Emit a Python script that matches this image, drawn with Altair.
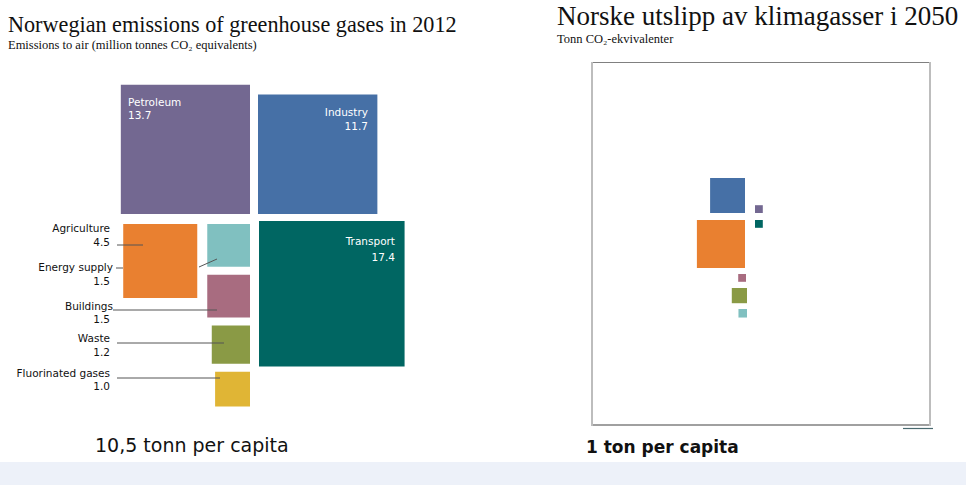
import altair as alt
import numpy as np
import pandas as pd

# ---------------- data ----------------
sectors = ["Petroleum", "Industry", "Transport", "Agriculture",
           "Energy supply", "Buildings", "Waste", "Fluorinated gases"]
values_2012 = [13.7, 11.7, 17.4, 4.5, 1.5, 1.5, 1.2, 1.0]          # million tonnes CO2-eq
values_2050 = [0.05, 1.0, 0.05, 1.9, 0.06, 0.05, 0.19, 0.0]
value_labels = ["13.7", "11.7", "17.4", "4.5", "1.5", "1.5", "1.2", "1.0"]
colors = ["#736891", "#4670a6", "#006662", "#e98030",
          "#80c0c0", "#a86c80", "#8a9a45", "#e0b535"]

title_left = "Norwegian emissions of greenhouse gases in 2012"
subtitle_left = "Emissions to air (million tonnes CO\u2082 equivalents)"
title_right = "Norske utslipp av klimagasser i 2050"
subtitle_right = "Tonn CO\u2082-ekvivalenter"
footer_left = "10,5 tonn per capita"
footer_right = "1 ton per capita"

# ---------------- layout (canvas pixels) ----------------
W, H = 966, 485
K = 34.9          # pixels of square side per sqrt(million tonnes)
GAP = 8

def side(v):
    return K * np.sqrt(v)

def place(v, xref, xa, yref, ya):
    s = side(v)
    x0 = xa if xref == "left" else xa - s
    y0 = ya if yref == "top" else ya - s
    return x0, x0 + s, y0, y0 + s

# 2012 panel
v = dict(zip(sectors, values_2012))
anch_2012 = {}
anch_2012["Petroleum"] = ("right", 250, "bottom", 214)
anch_2012["Industry"] = ("left", 250 + GAP, "bottom", 214)
anch_2012["Transport"] = ("left", 259, "top", 221)
col_top = 224
for name in ["Energy supply", "Buildings", "Waste", "Fluorinated gases"]:
    anch_2012[name] = ("right", 250, "top", col_top)
    col_top += side(v[name]) + GAP
anch_2012["Agriculture"] = ("right", 250 - side(v["Energy supply"]) - 10, "top", 224)

# 2050 panel
anch_2050 = {
    "Industry": ("right", 745, "bottom", 213),
    "Petroleum": ("left", 755, "bottom", 213),
    "Transport": ("left", 755, "top", 220),
    "Agriculture": ("right", 745, "top", 220),
    "Buildings": ("right", 746, "top", 274),
    "Waste": ("right", 747, "top", 288),
    "Energy supply": ("right", 747, "top", 309),
    "Fluorinated gases": ("right", 747, "top", 330),
}

rows = []
for panel, vals, anch in [("2012", values_2012, anch_2012), ("2050", values_2050, anch_2050)]:
    for name, val, col in zip(sectors, vals, colors):
        if val <= 0:
            continue
        x0, x1, y0, y1 = place(val, *anch[name])
        rows.append(dict(panel=panel, sector=name, value=val, color=col,
                         x=x0, x2=x1, y=y0, y2=y1))
squares = pd.DataFrame(rows)

xs = alt.Scale(domain=[0, W], nice=False, zero=False)
ys = alt.Scale(domain=[0, H], nice=False, zero=False, reverse=True)

def X(f="x"):
    return alt.X(f"{f}:Q", scale=xs, axis=None)

def Y(f="y"):
    return alt.Y(f"{f}:Q", scale=ys, axis=None)

# background band
band = alt.Chart(pd.DataFrame([dict(x=0, x2=W, y=462, y2=H)])).mark_rect(
    color="#edf1f9").encode(x=X(), x2="x2:Q", y=Y(), y2="y2:Q")

# squares
sq = alt.Chart(squares).mark_rect().encode(
    x=X(), x2="x2:Q", y=Y(), y2="y2:Q",
    color=alt.Color("color:N", scale=None),
    tooltip=["panel:N", "sector:N", "value:Q"])

# frame of right panel
frame_df = pd.DataFrame([
    dict(x=592, x2=931, y=62.5, y2=62.5, c="#808080", w=1.2),
    dict(x=592, x2=931, y=425, y2=425, c="#808080", w=1.5),
    dict(x=592, x2=592, y=62, y2=426, c="#bdbdbd", w=2),
    dict(x=930, x2=930, y=62, y2=426, c="#bdbdbd", w=2),
    dict(x=903, x2=933, y=428.5, y2=428.5, c="#4a6a70", w=1.2),
])
frame = alt.Chart(frame_df).mark_rule().encode(
    x=X(), x2="x2:Q", y=Y(), y2="y2:Q",
    color=alt.Color("c:N", scale=None),
    strokeWidth=alt.StrokeWidth("w:Q", scale=None))

# leader lines
lead_df = pd.DataFrame([
    dict(x=117, x2=143, y=245, y2=245),
    dict(x=116, x2=123, y=268, y2=268),
    dict(x=199, x2=217, y=267, y2=259),
    dict(x=113, x2=217, y=310, y2=310),
    dict(x=117, x2=224, y=343, y2=343),
    dict(x=117, x2=220, y=378, y2=378),
])
leads = alt.Chart(lead_df).mark_rule(color="#555555", strokeWidth=1).encode(
    x=X(), x2="x2:Q", y=Y(), y2="y2:Q")

LABEL_FONT = "DejaVu Sans"

def text_layer(df, **kw):
    return alt.Chart(df).mark_text(**kw).encode(x=X(), y=Y(), text="t:N")

# outside labels (right-aligned)
out_names = pd.DataFrame([
    dict(t="Agriculture", x=110, y=229),
    dict(t="Energy supply", x=113, y=268),
    dict(t="Buildings", x=113, y=307),
    dict(t="Waste", x=110, y=339),
    dict(t="Fluorinated gases", x=110, y=374),
    dict(t=value_labels[3], x=110, y=243),
    dict(t=value_labels[4], x=110, y=282),
    dict(t=value_labels[5], x=110, y=320),
    dict(t=value_labels[6], x=110, y=353),
    dict(t=value_labels[7], x=110, y=387),
])
out_txt = text_layer(out_names, align="right", baseline="middle", font=LABEL_FONT,
                     fontSize=10.5, color="#111111")

# inside labels
in_left = pd.DataFrame([dict(t=sectors[0], x=128, y=103), dict(t=value_labels[0], x=128, y=116)])
in_right = pd.DataFrame([
    dict(t=sectors[1], x=368, y=113), dict(t=value_labels[1], x=368, y=127),
    dict(t=sectors[2], x=395, y=242), dict(t=value_labels[2], x=395, y=258),
])
in_txt_l = text_layer(in_left, align="left", baseline="middle", font=LABEL_FONT,
                      fontSize=10.5, color="white")
in_txt_r = text_layer(in_right, align="right", baseline="middle", font=LABEL_FONT,
                      fontSize=10.5, color="white")

# titles
SERIF = "Liberation Serif"
t1 = text_layer(pd.DataFrame([dict(t=title_left, x=8, y=32)]), align="left",
                baseline="alphabetic", font=SERIF, fontSize=22.2, color="#111111")
t2 = text_layer(pd.DataFrame([dict(t=subtitle_left, x=8, y=49)]), align="left",
                baseline="alphabetic", font=SERIF, fontSize=12.5, color="#111111")
t3 = text_layer(pd.DataFrame([dict(t=title_right, x=557, y=25)]), align="left",
                baseline="alphabetic", font=SERIF, fontSize=27, color="#111111")
t4 = text_layer(pd.DataFrame([dict(t=subtitle_right, x=557, y=43)]), align="left",
                baseline="alphabetic", font=SERIF, fontSize=12.5, color="#111111")

f1 = text_layer(pd.DataFrame([dict(t=footer_left, x=95, y=452)]), align="left",
                baseline="alphabetic", font=LABEL_FONT, fontSize=19, color="#111111")
f2 = text_layer(pd.DataFrame([dict(t=footer_right, x=586, y=453)]), align="left",
                baseline="alphabetic", font=LABEL_FONT, fontSize=17, fontWeight="bold",
                color="#111111")

chart = alt.layer(band, sq, frame, leads, out_txt, in_txt_l, in_txt_r,
                  t1, t2, t3, t4, f1, f2).properties(
    width=W, height=H,
    autosize=alt.AutoSizeParams(type="none"),
    padding=0,
    background="white",
).configure_view(stroke=None)

chart.save("out.html", embed_options={"renderer": "svg", "actions": False})
